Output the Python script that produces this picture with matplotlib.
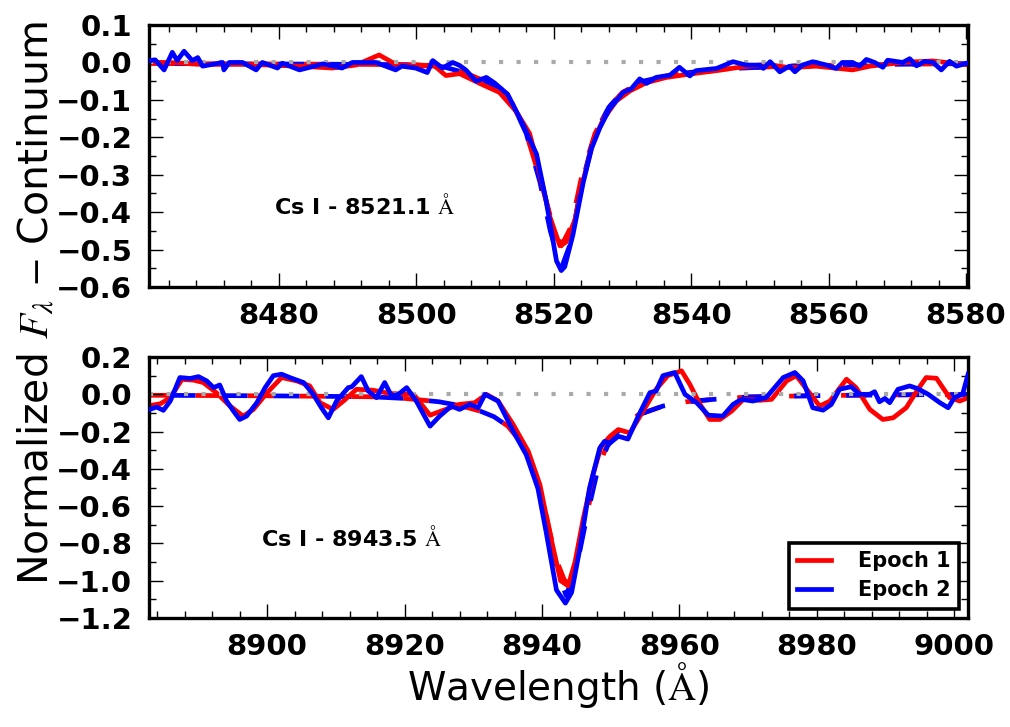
import matplotlib
matplotlib.use("Agg")
import matplotlib.pyplot as plt
import numpy as np

plt.rcParams['mathtext.fontset'] = 'stix'
plt.rcParams['font.family'] = ['DejaVu Sans']

# ---------------- Data: top panel (Cs I 8521.1) ----------------
top_red_wl = [8461.2, 8464.0, 8468.4, 8475.7, 8483.0, 8487.8, 8491.2, 8494.6, 8497.0,
              8501.0, 8502.4, 8504.3, 8506.3, 8509.7, 8512.1, 8514.5, 8516.5, 8517.9,
              8519.4, 8520.9, 8521.8, 8523.1, 8524.3, 8525.7, 8527.2, 8529.1, 8531.1,
              8533.5, 8536.4, 8539.8, 8543.7, 8546.6, 8551.0, 8554.3, 8558.2, 8563.5,
              8566.0, 8570.8, 8575.1, 8580.5]
top_red_fl = [0.0, 0.0, -0.005, -0.005, -0.01, -0.015, -0.007, 0.02, -0.005,
              -0.01, -0.005, -0.035, -0.03, -0.06, -0.08, -0.13, -0.19, -0.29,
              -0.41, -0.49, -0.48, -0.42, -0.314, -0.215, -0.152, -0.103, -0.076,
              -0.054, -0.04, -0.031, -0.022, -0.014, -0.005, -0.014, -0.01, -0.02,
              -0.01, 0.0, 0.004, -0.007]

top_blue_wl = [8461.2, 8462.0, 8463.3, 8464.5, 8465.2, 8466.2, 8467.4, 8468.2, 8468.9,
               8471.8, 8472.0, 8472.8, 8474.7, 8476.7, 8477.6, 8479.8, 8480.5, 8483.0,
               8486.4, 8489.2, 8490.7, 8494.1, 8497.0, 8497.9, 8499.9, 8501.6, 8502.4,
               8503.8, 8505.3, 8506.3, 8507.2, 8508.7, 8510.2, 8511.4, 8513.3, 8515.5,
               8517.5, 8518.9, 8520.4, 8521.1, 8521.6, 8522.8, 8524.3, 8525.5, 8526.7,
               8528.1, 8530.1, 8531.3, 8532.5, 8533.5, 8534.9, 8536.9, 8538.3, 8539.8,
               8540.7, 8543.7, 8546.1, 8548.0, 8550.0, 8550.5, 8551.5, 8552.9, 8554.3,
               8555.1, 8556.2, 8557.7, 8559.7, 8561.1, 8562.0, 8563.5, 8564.5, 8565.5,
               8566.7, 8567.9, 8568.6, 8570.8, 8571.8, 8572.8, 8574.0, 8575.2, 8576.4,
               8577.6, 8578.6, 8580.5]
top_blue_fl = [0.005, 0.007, -0.02, 0.027, 0.005, 0.03, 0.005, 0.013, -0.01,
               0.0, -0.02, 0.0, 0.0, -0.02, 0.0, -0.015, -0.002, -0.02,
               -0.004, -0.015, 0.0, 0.0, -0.02, -0.01, -0.015, -0.027, 0.005,
               -0.015, 0.0, -0.008, -0.02, -0.05, -0.04, -0.055, -0.085, -0.165,
               -0.245, -0.37, -0.53, -0.556, -0.546, -0.46, -0.32, -0.23, -0.175,
               -0.125, -0.08, -0.07, -0.044, -0.056, -0.04, -0.034, -0.013, -0.036,
               -0.022, -0.016, 0.002, -0.007, -0.007, -0.016, 0.002, -0.025, -0.01,
               -0.025, -0.007, 0.002, -0.007, -0.016, 0.0, 0.0, -0.01, 0.008,
               0.0, -0.013, 0.006, 0.0, 0.01, -0.009, 0.003, 0.0, -0.02,
               0.003, -0.01, 0.0]

top_mod_wl = [8461.0, 8480.0, 8490.0, 8500.0, 8504.0, 8507.0, 8510.0, 8512.0, 8514.0,
              8516.0, 8518.0, 8519.5, 8521.1, 8522.5, 8524.0, 8526.0, 8528.0, 8530.0,
              8533.0, 8538.0, 8545.0, 8555.0, 8570.0, 8581.0]
top_mod_red = [-0.003, -0.004, -0.005, -0.006, -0.012, -0.027, -0.05, -0.07, -0.11,
               -0.19, -0.31, -0.41, -0.49, -0.44, -0.31, -0.19, -0.12, -0.08,
               -0.05, -0.03, -0.017, -0.009, -0.005, -0.003]
top_mod_blue = [-0.003, -0.004, -0.005, -0.006, -0.012, -0.027, -0.05, -0.07, -0.11,
                -0.19, -0.32, -0.45, -0.55, -0.48, -0.33, -0.19, -0.12, -0.08,
                -0.05, -0.03, -0.017, -0.009, -0.005, -0.003]

# ---------------- Data: bottom panel (Cs I 8943.5) ----------------
bot_red_wl = [8883.0, 8884.5, 8885.9, 8887.6, 8889.3, 8890.7, 8892.6, 8894.6, 8896.5,
              8898.0, 8900.0, 8902.1, 8904.3, 8906.2, 8907.7, 8909.6, 8911.1, 8913.0,
              8915.4, 8917.9, 8921.3, 8923.7, 8925.6, 8928.0, 8930.2, 8931.9, 8933.6,
              8935.8, 8938.0, 8939.7, 8941.1, 8942.7, 8943.8, 8944.8, 8946.0, 8947.4,
              8948.6, 8949.9, 8951.1, 8952.8, 8954.7, 8956.6, 8958.3, 8960.3, 8961.5,
              8963.0, 8964.4, 8965.9, 8967.6, 8969.3, 8971.7, 8973.4, 8975.6, 8977.0,
              8978.7, 8980.4, 8981.9, 8984.3, 8985.7, 8987.7, 8989.6, 8991.1, 8993.0,
              8994.7, 8995.9, 8997.4, 8999.3, 9000.8, 9002.0]
bot_red_fl = [-0.06, -0.05, -0.018, 0.08, 0.076, 0.063, 0.009, -0.063, -0.117,
              -0.081, 0.009, 0.09, 0.072, 0.045, -0.045, -0.081, -0.036, 0.027,
              0.022, 0.004, 0.0, -0.112, -0.086, -0.054, -0.045, 0.0, -0.036,
              -0.162, -0.306, -0.486, -0.739, -1.0, -1.027, -0.9, -0.667, -0.432,
              -0.279, -0.225, -0.189, -0.207, -0.09, 0.027, 0.1, 0.126, 0.054,
              -0.054, -0.135, -0.135, -0.09, -0.027, -0.032, -0.027, 0.072, 0.1,
              0.018, -0.063, -0.036, 0.081, 0.036, -0.081, -0.135, -0.126, -0.072,
              0.027, 0.09, 0.086, -0.018, -0.036, -0.018]

bot_blue_wl = [8882.95, 8883.9, 8884.9, 8885.9, 8887.3, 8888.8, 8890.0, 8891.2, 8892.2,
               8893.1, 8894.1, 8895.1, 8896.0, 8897.0, 8898.5, 8899.7, 8900.9, 8902.1,
               8903.3, 8905.3, 8906.7, 8907.9, 8908.9, 8910.1, 8911.8, 8912.3, 8913.7,
               8914.7, 8915.9, 8917.1, 8918.1, 8919.1, 8920.3, 8921.7, 8923.7, 8925.1,
               8926.8, 8928.0, 8929.5, 8930.7, 8931.7, 8933.6, 8935.8, 8937.7, 8939.4,
               8940.6, 8942.1, 8943.4, 8944.3, 8945.5, 8946.9, 8948.4, 8949.1, 8949.9,
               8951.1, 8952.5, 8954.0, 8955.7, 8956.6, 8957.6, 8959.3, 8960.8, 8962.5,
               8964.2, 8966.3, 8967.8, 8969.0, 8970.7, 8972.6, 8975.1, 8976.8, 8978.0,
               8979.4, 8980.9, 8982.1, 8983.3, 8985.0, 8986.2, 8987.7, 8988.4, 8989.1,
               8989.9, 8990.6, 8991.8, 8993.5, 8994.7, 8996.2, 8997.9, 8999.1, 9000.0,
               9001.2, 9002.0]
bot_blue_fl = [-0.081, -0.068, -0.086, -0.036, 0.09, 0.085, 0.095, 0.072, 0.036,
               0.05, -0.036, -0.09, -0.135, -0.117, -0.045, 0.036, 0.1, 0.108,
               0.09, 0.063, 0.0, -0.072, -0.126, -0.036, 0.036, 0.04, 0.095,
               0.018, -0.018, 0.063, -0.009, 0.0, 0.036, -0.036, -0.171, -0.117,
               -0.063, -0.081, -0.054, -0.072, 0.0, -0.036, -0.198, -0.324, -0.505,
               -0.739, -1.05, -1.12, -1.063, -0.829, -0.505, -0.288, -0.252, -0.261,
               -0.225, -0.24, -0.117, 0.009, 0.018, 0.1, 0.117, 0.0, -0.045,
               -0.112, -0.117, -0.054, -0.027, -0.036, -0.018, 0.09, 0.117, 0.072,
               -0.072, -0.085, -0.054, 0.027, 0.041, 0.0, 0.0, 0.014, -0.04,
               -0.022, -0.045, 0.027, 0.045, 0.03, 0.0, -0.045, -0.072, -0.018,
               0.0, 0.108]

bot_mod_wl = [8882.0, 8900.0, 8915.0, 8920.0, 8925.0, 8928.0, 8931.0, 8933.0, 8935.0,
              8937.0, 8939.0, 8940.5, 8942.0, 8943.5, 8945.0, 8946.5, 8948.0, 8949.5,
              8951.0, 8954.0, 8957.6, 8961.0, 8965.0, 8970.0, 8977.0, 8985.0, 8995.0,
              9003.0]
bot_mod_red = [-0.005, -0.008, -0.013, -0.022, -0.04, -0.06, -0.09, -0.12, -0.17,
               -0.26, -0.42, -0.63, -0.88, -1.02, -0.89, -0.64, -0.41, -0.27,
               -0.19, -0.11, -0.063, -0.04, -0.027, -0.014, -0.009, -0.005, -0.002,
               -0.001]
bot_mod_blue = [-0.005, -0.008, -0.013, -0.022, -0.04, -0.06, -0.09, -0.12, -0.17,
                -0.26, -0.42, -0.65, -0.92, -1.08, -0.93, -0.66, -0.42, -0.28,
                -0.2, -0.11, -0.063, -0.04, -0.027, -0.014, -0.009, -0.005, -0.002,
                -0.001]

top_xlim = (8461.1, 8580.3)
bot_xlim = (8882.8, 9002.0)
top_ylim = (-0.6, 0.1)
bot_ylim = (-1.2, 0.2)
top_label = r'Cs I - 8521.1 $\mathrm{\AA}$'
bot_label = r'Cs I - 8943.5 $\mathrm{\AA}$'
legend_labels = ['Epoch 1', 'Epoch 2']

RED = '#ff0000'
BLUE = '#0000ff'
LW = 3.4

fig = plt.figure(figsize=(10.10, 7.27), dpi=100)
ax1 = fig.add_axes([0.1475, 0.6052, 0.811, 0.3604])
ax2 = fig.add_axes([0.1475, 0.1499, 0.811, 0.3590])

def style(ax, xlim, ylim, xmaj, xmin, ymaj, ymin):
    ax.set_xlim(*xlim)
    ax.set_ylim(*ylim)
    ax.xaxis.set_major_locator(plt.MultipleLocator(xmaj))
    ax.xaxis.set_minor_locator(plt.MultipleLocator(xmin))
    ax.yaxis.set_major_locator(plt.MultipleLocator(ymaj))
    ax.yaxis.set_minor_locator(plt.MultipleLocator(ymin))
    ax.tick_params(which='both', direction='in', top=True, right=True)
    ax.tick_params(which='major', length=10, width=1.0)
    ax.tick_params(which='minor', length=5, width=1.0)
    ax.tick_params(axis='x', which='major', pad=11, labelsize=21)
    ax.tick_params(axis='y', which='major', pad=12, labelsize=21)
    for lab in ax.get_xticklabels() + ax.get_yticklabels():
        lab.set_fontweight('bold')
    for sp in ax.spines.values():
        sp.set_linewidth(2.4)

def draw(ax, rwl, rfl, bwl, bfl, mwl, mred, mblue, xlim):
    ax.plot(mwl, mred, color=RED, lw=LW, linestyle=(0, (5.5, 5.5)), zorder=1.5)
    ax.plot(mwl, mblue, color=BLUE, lw=LW, linestyle=(5.5, (5.5, 5.5)), zorder=1.6)
    ax.plot(rwl, rfl, color=RED, lw=LW, zorder=2, solid_joinstyle='round')
    ax.plot(xlim, [0, 0], color='#aaaaaa', lw=3, linestyle=(0, (1, 3.2)), zorder=2.5)
    ax.plot(bwl, bfl, color=BLUE, lw=LW, zorder=3, solid_joinstyle='round')

draw(ax1, top_red_wl, top_red_fl, top_blue_wl, top_blue_fl, top_mod_wl,
     top_mod_red, top_mod_blue, top_xlim)
draw(ax2, bot_red_wl, bot_red_fl, bot_blue_wl, bot_blue_fl, bot_mod_wl,
     bot_mod_red, bot_mod_blue, bot_xlim)

style(ax1, top_xlim, top_ylim, 20, 4, 0.1, 0.05)
style(ax2, bot_xlim, bot_ylim, 20, 4, 0.2, 0.1)

ax1.text(8492.5, -0.381, top_label, fontsize=16, fontweight='bold',
         ha='center', va='center')
ax2.text(8912.3, -0.768, bot_label, fontsize=16, fontweight='bold',
         ha='center', va='center')

h1, = ax2.plot([], [], color=RED, lw=LW)
h2, = ax2.plot([], [], color=BLUE, lw=LW)
leg = ax2.legend([h1, h2], legend_labels, loc='lower right', fancybox=False,
                 framealpha=1, edgecolor='black', prop={'weight': 'bold', 'size': 15},
                 handlelength=1.6, handletextpad=1.3, borderaxespad=0.45,
                 labelspacing=0.45)
leg.get_frame().set_linewidth(2.6)
leg.set_zorder(10)

fig.text(0.5530, 0.037, r'Wavelength ($\mathrm{\AA}$)', fontsize=28, ha='center',
         va='baseline')
fig.text(0.036, 0.583, r'Normalized $F_\lambda$ $-$ Continuum', fontsize=29.5,
         rotation=90, ha='center', va='center')

fig.savefig('out.png', dpi=100)
